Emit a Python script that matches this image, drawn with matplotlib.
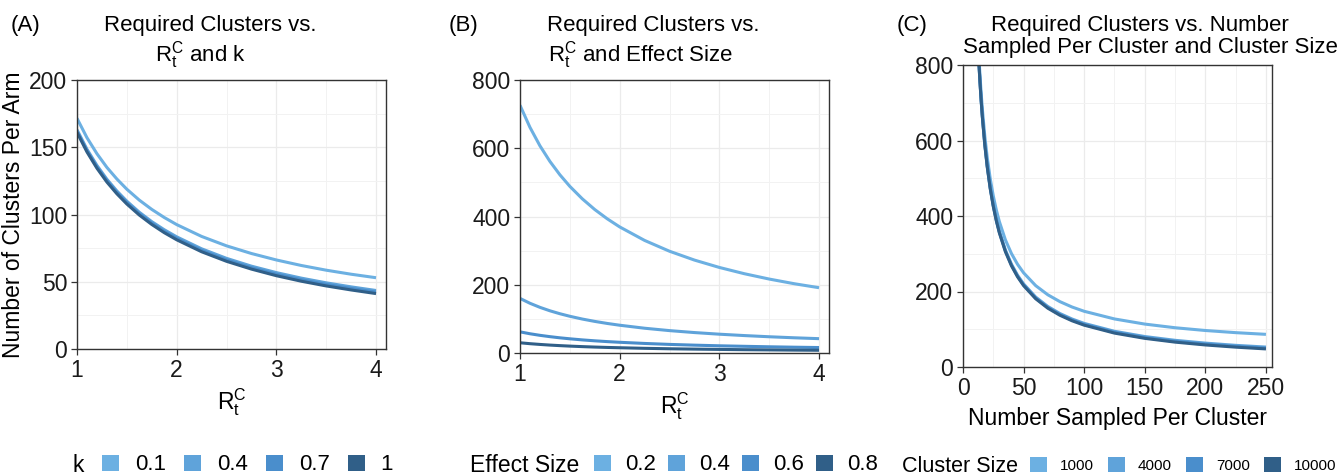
import matplotlib
matplotlib.use("Agg")
import matplotlib.pyplot as plt
from matplotlib.patches import Patch
from matplotlib.ticker import MultipleLocator

plt.rcParams['font.family'] = ['Liberation Sans', 'DejaVu Sans']
plt.rcParams['mathtext.default'] = 'regular'

# ---- data ----
rt = [1, 1.1, 1.2, 1.3, 1.4, 1.5, 1.625, 1.75, 1.875, 2,
      2.25, 2.5, 2.75, 3, 3.25, 3.5, 3.75, 4]

k_levels = ['0.1', '0.4', '0.7', '1']
k_01 = [171.5, 157.1, 145.2, 135.0, 126.4, 118.8, 110.7, 103.8, 97.8, 92.5,
        83.7, 76.7, 71.0, 66.2, 62.1, 58.6, 55.6, 53.0]
k_04 = [163.0, 148.5, 136.5, 126.2, 117.5, 109.9, 101.7, 94.7, 88.7, 83.4,
        74.5, 67.4, 61.6, 56.8, 52.7, 49.2, 46.2, 43.5]
k_07 = [162.0, 147.5, 135.4, 125.2, 116.4, 108.8, 100.6, 93.6, 87.5, 82.2,
        73.3, 66.2, 60.4, 55.6, 51.5, 48.0, 45.0, 42.3]
k_1 = [161.0, 146.5, 134.4, 124.1, 115.4, 107.8, 99.6, 92.6, 86.5, 81.2,
       72.3, 65.2, 59.4, 54.5, 50.4, 46.9, 43.9, 41.2]

eff_levels = ['0.2', '0.4', '0.6', '0.8']
eff_02 = [726, 661.2, 607.2, 561.5, 522.3, 488.3, 451.8, 420.4, 393.3, 369.5,
          329.9, 298.2, 272.3, 250.7, 232.4, 216.7, 203.1, 191.3]
eff_04 = [160.0, 145.7, 133.8, 123.7, 115.1, 107.6, 99.5, 92.6, 86.6, 81.4,
          72.6, 65.6, 59.9, 55.1, 51.1, 47.6, 44.6, 42.0]
eff_06 = [62.0, 56.4, 51.8, 47.9, 44.5, 41.6, 38.4, 35.7, 33.4, 31.4,
          28.0, 25.2, 23.0, 21.1, 19.6, 18.2, 17.0, 16.0]
eff_08 = [30.0, 27.3, 25.1, 23.2, 21.6, 20.2, 18.7, 17.4, 16.3, 15.4,
          13.7, 12.4, 11.4, 10.5, 9.7, 9.1, 8.5, 8.0]

n_sampled = [12, 13, 14, 15, 16, 18, 20, 22.5, 25, 27.5, 30, 35, 40, 45, 50,
             60, 70, 80, 90, 100, 125, 150, 175, 200, 225, 250]
size_levels = ['1000', '4000', '7000', '10000']
cs_1000 = [894.4, 829.1, 773.2, 724.7, 682.2, 611.5, 554.9, 498.4, 453.1, 416.1, 385.2,
           336.7, 300.4, 272.1, 249.5, 215.5, 191.3, 173.1, 158.9, 147.6, 127.3, 113.7,
           104.0, 96.7, 91.0, 86.5]
cs_4000 = [881.8, 814.8, 757.4, 707.7, 664.1, 591.6, 533.5, 475.4, 429.0, 391.0, 359.3,
           309.6, 272.3, 243.2, 220.0, 185.2, 160.3, 141.6, 127.1, 115.5, 94.6, 80.7,
           70.7, 63.3, 57.4, 52.8]
cs_7000 = [880.5, 813.4, 755.9, 706.0, 662.4, 589.7, 531.5, 473.3, 426.8, 388.7, 357.0,
           307.1, 269.8, 240.7, 217.4, 182.5, 157.6, 138.9, 124.3, 112.7, 91.8, 77.8,
           67.8, 60.4, 54.6, 49.9]
cs_10000 = [879.3, 812.1, 754.6, 704.7, 661.0, 588.2, 530.0, 471.8, 425.2, 387.1, 355.3,
            305.4, 268.0, 238.9, 215.6, 180.7, 155.7, 137.0, 122.4, 110.8, 89.8, 75.9,
            65.9, 58.4, 52.6, 47.9]

colors = ['#6CB0E2', '#5FA3DA', '#4A8ECC', '#305F88']

W, H = 1339, 475
fig = plt.figure(figsize=(W / 100, H / 100), dpi=100)


def px_axes(left, top, right, bottom):
    return fig.add_axes([left / W, 1 - bottom / H, (right - left) / W, (bottom - top) / H])


def style(ax, xmaj, xmin, ymaj, ymin):
    ax.xaxis.set_major_locator(MultipleLocator(xmaj))
    ax.xaxis.set_minor_locator(MultipleLocator(xmin))
    ax.yaxis.set_major_locator(MultipleLocator(ymaj))
    ax.yaxis.set_minor_locator(MultipleLocator(ymin))
    ax.grid(which='major', color='#EBEBEB', lw=0.9)
    ax.grid(which='minor', color='#F2F2F2', lw=0.7)
    ax.set_axisbelow(True)
    for s in ax.spines.values():
        s.set_color('#333333')
        s.set_linewidth(1.0)
    ax.tick_params(which='major', length=4, width=0.9, color='#333333',
                   labelsize=16.5, labelcolor='#1a1a1a', pad=3)
    ax.tick_params(which='minor', length=0)


def txt(x, y, s, **kw):
    fig.text(x / W, 1 - y / H, s, **kw)


# (A)
axA = px_axes(77, 80, 386, 349)
for ys, c in zip([k_01, k_04, k_07, k_1], colors):
    axA.plot(rt, ys, color=c, lw=2.2, solid_capstyle='butt')
axA.set_xlim(1, 4.1)
axA.set_ylim(0, 200)
style(axA, 1, 0.5, 50, 25)
axA.set_xlabel('$R_t^C$', fontsize=16.5, labelpad=3)
axA.set_ylabel('Number of Clusters Per Arm', fontsize=16.5, labelpad=3)

# (B)
axB = px_axes(520, 80, 829, 353)
for ys, c in zip([eff_02, eff_04, eff_06, eff_08], colors):
    axB.plot(rt, ys, color=c, lw=2.2, solid_capstyle='butt')
axB.set_xlim(1, 4.1)
axB.set_ylim(0, 800)
style(axB, 1, 0.5, 200, 100)
axB.set_xlabel('$R_t^C$', fontsize=16.5, labelpad=3)

# (C)
axC = px_axes(963, 65, 1272, 367)
for ys, c in zip([cs_1000, cs_4000, cs_7000, cs_10000], colors):
    axC.plot(n_sampled, ys, color=c, lw=2.2, solid_capstyle='butt')
axC.set_xlim(0, 255)
axC.set_ylim(0, 800)
style(axC, 50, 25, 200, 100)
axC.set_xlabel('Number Sampled Per Cluster', fontsize=16.5, labelpad=5)

# titles
tkw = dict(fontsize=16, ha='center', va='center', color='black')
txt(25, 25, '(A)', **tkw)
txt(210, 25, 'Required Clusters vs.', **tkw)
txt(200, 55, '$R_t^C$ and k', **tkw)
txt(463, 25, '(B)', **tkw)
txt(653, 25, 'Required Clusters vs.', **tkw)
txt(641, 55, '$R_t^C$ and Effect Size', **tkw)
txt(912, 25, '(C)', **tkw)
txt(1140, 25, 'Required Clusters vs. Number', **tkw)
txt(1150, 48, 'Sampled Per Cluster and Cluster Size', **tkw)


# legends along the bottom
def legend(title, labels, title_x, anchor_x, fsize, key, pad, gap, tsize=16.5):
    handles = [Patch(facecolor=c, edgecolor='none') for c in colors]
    txt(title_x, 466, title, fontsize=tsize, ha='left', va='center')
    fpx = fsize * 100 / 72
    fig.legend(handles, labels, ncol=4, loc='center left',
               bbox_to_anchor=(anchor_x / W, 1 - 465 / H), frameon=False,
               fontsize=fsize, handlelength=key / fpx, handleheight=key / fpx,
               handletextpad=pad / fpx, columnspacing=gap / fpx,
               borderpad=0, borderaxespad=0)


legend('k', k_levels, 72, 102, 16, 17, 16, 18)
legend('Effect Size', eff_levels, 470, 594, 16, 17, 14, 12)
legend('Cluster Size', size_levels, 902, 1030, 11, 17, 13, 14, tsize=15.5)

fig.savefig('out.png', dpi=100)
